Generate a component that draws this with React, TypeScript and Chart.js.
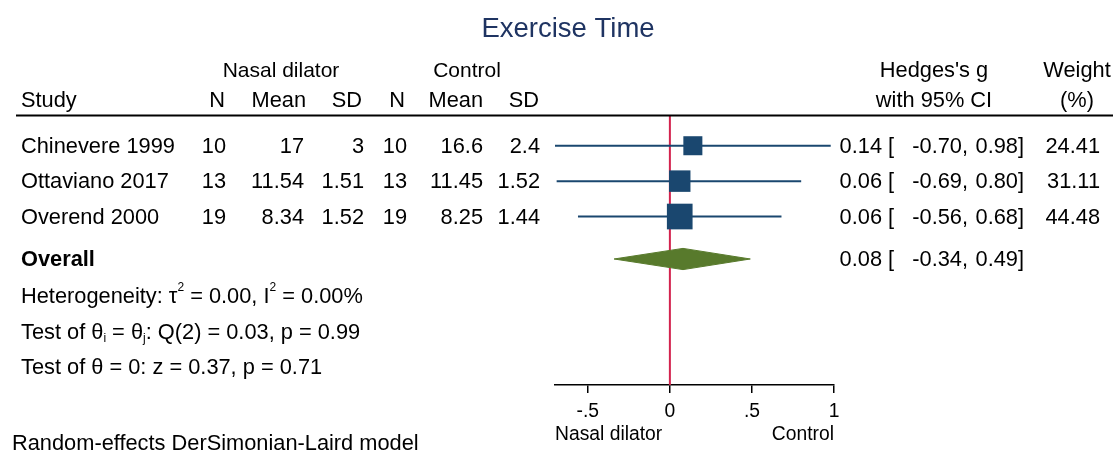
import React, { useEffect, useRef } from "react";
import { Chart, registerables } from "chart.js";

Chart.register(...registerables);

// ---------------- data ----------------
const chartTitle = "Exercise Time";
const groupLabels = ["Nasal dilator", "Control"];
const studyLabels = ["Chinevere 1999", "Ottaviano 2017", "Overend 2000"];
const treatN = [10, 13, 19];
const treatMean = [17, 11.54, 8.34];
const treatSD = [3, 1.51, 1.52];
const ctrlN = [10, 13, 19];
const ctrlMean = [16.6, 11.45, 8.25];
const ctrlSD = [2.4, 1.52, 1.44];
const effectSize = [0.14, 0.06, 0.06];
const ciLower = [-0.7, -0.69, -0.56];
const ciUpper = [0.98, 0.8, 0.68];
const weightPct = [24.41, 31.11, 44.48];
const overallStats = [0.08, -0.34, 0.49]; // effect, lower, upper
const heteroStats = ["0.00", "0.00%"]; // tau^2, I^2
const qTest = ["2", "0.03", "0.99"]; // df, Q, p
const zTest = ["0.37", "0.71"]; // z, p
const xTickValues = [-0.5, 0, 0.5, 1];
const xTickLabels = ["-.5", "0", ".5", "1"];
const xRange = [-0.7, 1.0];
const axisSideLabels = ["Nasal dilator", "Control"];
const footnote = "Random-effects DerSimonian-Laird model";

// ---------------- style ----------------
const W = 1117;
const H = 453;
const FAMILY = '"Liberation Sans", Arial, Helvetica, sans-serif';
const NAVY = "#1a476f";
const GREEN = "#587a2c";
const RED = "#d3234e";
const TITLE_COLOR = "#1f3462";
const TXT = 21.8;

export default function App() {
  const ref = useRef<HTMLCanvasElement>(null);

  useEffect(() => {
    const canvas = ref.current;
    if (!canvas) return;

    const rows = studyLabels.map((_, i) => i + 1);
    const overallRow = studyLabels.length + 1.2;
    const statRows = [overallRow + 1.05, overallRow + 2.05, overallRow + 3.05];

    const ciSets = studyLabels.map((s, i) => ({
      label: s + " CI",
      data: [
        { x: ciLower[i], y: rows[i] },
        { x: ciUpper[i], y: rows[i] },
      ],
      showLine: true,
      borderColor: NAVY,
      borderWidth: 2,
      pointRadius: 0,
      fill: false,
      order: 3,
    }));

    const squareSet = {
      label: "Effect",
      data: studyLabels.map((_, i) => ({ x: effectSize[i], y: rows[i] })),
      showLine: false,
      pointStyle: "rect",
      pointRadius: (c: any) => (3.85 * Math.sqrt(weightPct[c.dataIndex] ?? 0)) / Math.SQRT2,
      pointBackgroundColor: NAVY,
      pointBorderWidth: 0,
      pointBorderColor: NAVY,
      order: 1,
    };

    const [oe, ol, ou] = overallStats;
    const diamondSet = {
      label: "Overall",
      data: [
        { x: ol, y: overallRow },
        { x: oe, y: overallRow - 0.3 },
        { x: ou, y: overallRow },
        { x: oe, y: overallRow + 0.3 },
        { x: ol, y: overallRow },
      ],
      showLine: true,
      fill: "shape",
      tension: 0,
      backgroundColor: GREEN,
      borderColor: GREEN,
      borderWidth: 1,
      pointRadius: 0,
      order: 2,
    };

    const font = (size: number, bold = false) => `${bold ? "bold " : ""}${size}px ${FAMILY}`;

    const forestPlugin = {
      id: "forestText",
      beforeDatasetsDraw(chart: any) {
        const { ctx, chartArea, scales } = chart;
        const x0 = scales.x.getPixelForValue(0);
        ctx.save();
        ctx.strokeStyle = RED;
        ctx.lineWidth = 2;
        ctx.beginPath();
        ctx.moveTo(x0, chartArea.top);
        ctx.lineTo(x0, chartArea.bottom);
        ctx.stroke();
        ctx.restore();
      },
      afterDraw(chart: any) {
        const { ctx, chartArea, scales } = chart;
        const yp = (v: number) => scales.y.getPixelForValue(v);
        const txt = (
          s: string,
          x: number,
          y: number,
          align: CanvasTextAlign = "left",
          f = font(TXT),
          color = "#000"
        ) => {
          ctx.font = f;
          ctx.fillStyle = color;
          ctx.textAlign = align;
          ctx.textBaseline = "alphabetic";
          ctx.fillText(s, x, y);
        };
        const rich = (parts: [string, string][], x: number, y: number) => {
          let cx = x;
          ctx.textAlign = "left";
          ctx.textBaseline = "alphabetic";
          ctx.fillStyle = "#000";
          for (const [t, kind] of parts) {
            const f = kind === "n" ? font(TXT) : font(12);
            const dy = kind === "sup" ? -12 : kind === "sub" ? 3 : 0;
            ctx.font = f;
            ctx.fillText(t, cx, y + dy);
            cx += ctx.measureText(t).width;
          }
        };

        ctx.save();
        // title
        txt(chartTitle, 568, 37, "center", font(27.5), TITLE_COLOR);

        // header rows
        const h1 = 77;
        const h2 = 106.5;
        txt(groupLabels[0], 281, h1, "center", font(21));
        txt(groupLabels[1], 467, h1, "center", font(21));
        txt("Hedges's g", 934, h1, "center");
        txt("Weight", 1077, h1, "center");
        txt("Study", 21, h2);
        txt("N", 225, h2, "right");
        txt("Mean", 306, h2, "right");
        txt("SD", 362, h2, "right");
        txt("N", 405, h2, "right");
        txt("Mean", 483, h2, "right");
        txt("SD", 539, h2, "right");
        txt("with 95% CI", 934, h2, "center");
        txt("(%)", 1077, h2, "center");

        // rule
        ctx.strokeStyle = "#000";
        ctx.lineWidth = 2;
        ctx.beginPath();
        ctx.moveTo(16, chartArea.top - 0.5);
        ctx.lineTo(1113, chartArea.top - 0.5);
        ctx.stroke();

        const ciText = (e: number, l: number, u: number, by: number) => {
          txt(e.toFixed(2), 882, by, "right");
          txt("[", 888, by, "left");
          txt(l.toFixed(2) + ",", 968, by, "right");
          txt(u.toFixed(2) + "]", 1024, by, "right");
        };

        // study rows
        studyLabels.forEach((s, i) => {
          const by = yp(rows[i]) + 7;
          txt(s, 21, by);
          txt(String(treatN[i]), 226, by, "right");
          txt(String(treatMean[i]), 304, by, "right");
          txt(String(treatSD[i]), 364, by, "right");
          txt(String(ctrlN[i]), 407, by, "right");
          txt(String(ctrlMean[i]), 483, by, "right");
          txt(String(ctrlSD[i]), 540, by, "right");
          ciText(effectSize[i], ciLower[i], ciUpper[i], by);
          txt(weightPct[i].toFixed(2), 1100, by, "right");
        });

        // overall
        const ob = yp(overallRow) + 7.5;
        txt("Overall", 21, ob, "left", font(TXT, true));
        ciText(oe, ol, ou, ob);

        // stats
        rich(
          [
            ["Heterogeneity: τ", "n"],
            ["2", "sup"],
            [" = " + heteroStats[0] + ", I", "n"],
            ["2", "sup"],
            [" = " + heteroStats[1], "n"],
          ],
          21,
          yp(statRows[0]) + 7
        );
        rich(
          [
            ["Test of θ", "n"],
            ["i", "sub"],
            [" = θ", "n"],
            ["j", "sub"],
            [": Q(" + qTest[0] + ") = " + qTest[1] + ", p = " + qTest[2], "n"],
          ],
          21,
          yp(statRows[1]) + 7
        );
        txt("Test of θ = 0: z = " + zTest[0] + ", p = " + zTest[1], 21, yp(statRows[2]) + 7);

        // axis side labels
        txt(axisSideLabels[0], chartArea.left, 440, "left", font(19.3));
        txt(axisSideLabels[1], chartArea.right, 440, "right", font(19.3));

        // footnote
        txt(footnote, 12, 450);
        ctx.restore();
      },
    };

    const chart = new Chart(canvas, {
      type: "scatter",
      data: { datasets: [...ciSets, diamondSet, squareSet] as any },
      options: {
        responsive: false,
        animation: false,
        devicePixelRatio: 1,
        layout: { padding: { left: 555, right: W - 834, top: 116, bottom: 8 } },
        plugins: {
          legend: { display: false },
          tooltip: { enabled: false },
          title: { display: false },
        },
        scales: {
          x: {
            type: "linear",
            position: "bottom",
            min: xRange[0],
            max: xRange[1],
            afterBuildTicks: (s: any) => {
              s.ticks = xTickValues.map((v) => ({ value: v }));
            },
            afterFit: (s: any) => {
              s.height = 60;
            },
            ticks: {
              callback: (_v: any, i: number) => xTickLabels[i],
              font: { family: FAMILY, size: 19.3 },
              color: "#000",
              padding: 7,
              maxRotation: 0,
              autoSkip: false,
            },
            grid: {
              drawOnChartArea: false,
              drawTicks: true,
              tickLength: 8,
              color: "#000",
              lineWidth: 1.5,
            },
            border: { display: true, color: "#000", width: 1.5 },
          },
          y: {
            type: "linear",
            display: false,
            reverse: true,
            min: 0.16,
            max: 7.76,
          },
        },
      } as any,
      plugins: [forestPlugin],
    });

    return () => chart.destroy();
  }, []);

  return (
    <div style={{ position: "fixed", left: 0, top: 0, width: W, height: H, background: "#fff" }}>
      <canvas ref={ref} width={W} height={H} style={{ display: "block", width: W, height: H }} />
    </div>
  );
}
